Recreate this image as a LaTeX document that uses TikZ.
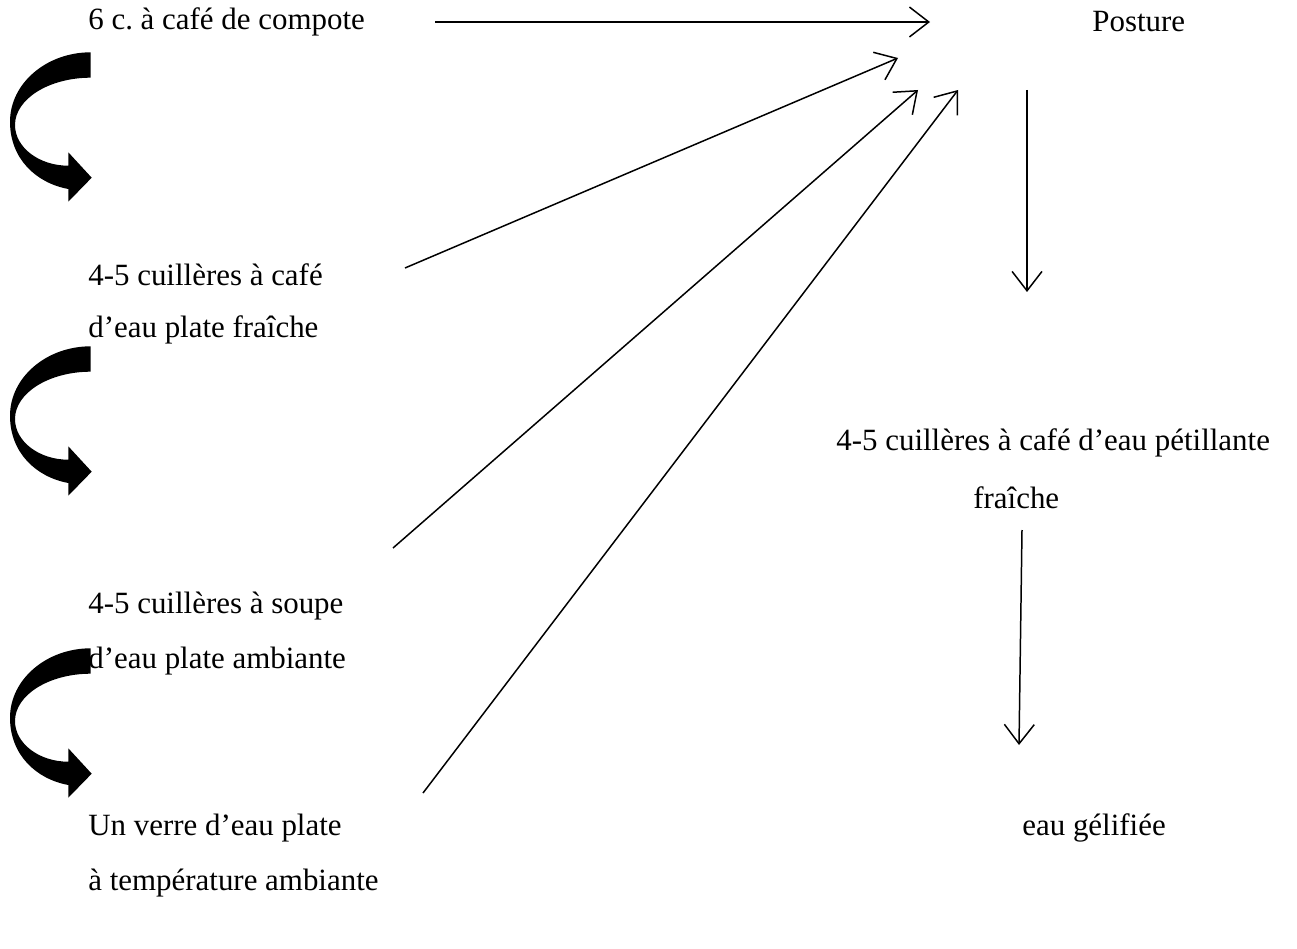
\documentclass[tikz,border=0pt]{standalone}
\usepackage{fontspec}
\setmainfont{Liberation Serif}
\usetikzlibrary{arrows.meta, positioning}
\frenchspacing

\tikzset{
  txt/.style={anchor=west, inner sep=0pt, font=\fontsize{17.6}{20}\selectfont},
  link/.style={-{Straight Barb[length=11pt, width=17pt]}, line width=0.85pt},
  bendarrow/.pic={
    \fill (90.7,52.3) .. controls (46.3,52.3) and (10,83.5) .. (10,121.7)
          .. controls (10,158.7) and (36,183) .. (68.3,189)
          -- (68.3,201.7) -- (91.7,177.7) -- (68.3,152.3) -- (68.3,165.7)
          .. controls (39,165.7) and (15,147.4) .. (15,125)
          .. controls (15,99) and (49,77.7) .. (90.7,77.7) -- cycle;
  }
}

\begin{document}
\begin{tikzpicture}[x=0.02cm, y=-0.02cm]
   \useasboundingbox (0,0) rectangle (1297,949);

   % left column
   \node[txt] (compote) at (88,22)  {6 c. à café de compote};
   \node[txt] (plate1)  at (88,275) {4-5 cuillères à café};
   \node[txt] (plate2)  at (88,330) {d’eau plate fraîche};
   \node[txt] (soupe1)  at (88,606) {4-5 cuillères à soupe};
   \node[txt] (soupe2)  at (88,661) {d’eau plate ambiante};
   \node[txt] (verre1)  at (88,828) {Un verre d’eau plate};
   \node[txt] (verre2)  at (88,883) {à température ambiante};

   % right column
   \node[txt] (posture) at (1092,22)  {Posture};
   \node[txt] (petil1)  at (836,443)  {4-5 cuillères à café d’eau pétillante};
   \node[txt] (petil2)  at (973,498)  {fraîche};
   \node[txt] (gel)     at (1022,828) {eau gélifiée};

   % curved arrows
   \pic at (0,0)   {bendarrow};
   \pic at (0,294) {bendarrow};
   \pic at (0,596) {bendarrow};

   % arrow ends
   \coordinate (c_0) at (435,22);   \coordinate (t_0) at (930,22);
   \coordinate (c_1) at (405,268);  \coordinate (t_1) at (898,58);
   \coordinate (c_2) at (393,548);  \coordinate (t_2) at (918,90);
   \coordinate (c_3) at (423,793);  \coordinate (t_3) at (958,90);
   \coordinate (c_4) at (1027,90);  \coordinate (t_4) at (1027,292);
   \coordinate (c_5) at (1022,530); \coordinate (t_5) at (1019,745);

   \draw[link] (c_0) -- (t_0);
   \draw[link] (c_1) -- (t_1);
   \draw[link] (c_2) -- (t_2);
   \draw[link] (c_3) -- (t_3);
   \draw[link] (c_4) -- (t_4);
   \draw[link] (c_5) -- (t_5);
\end{tikzpicture}
\end{document}
